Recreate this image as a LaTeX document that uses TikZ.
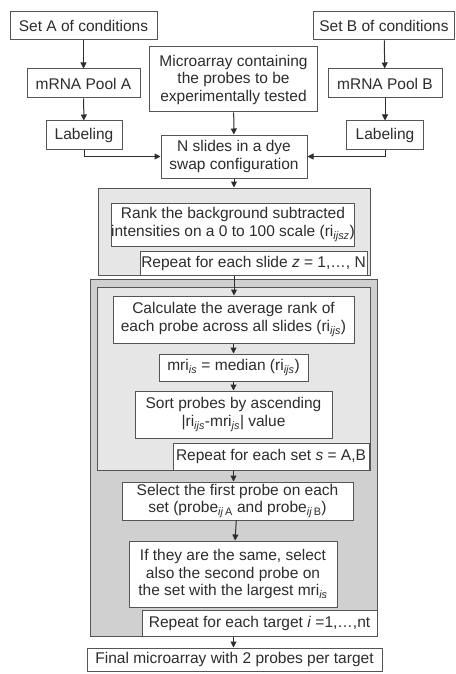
\documentclass[tikz,border=0pt]{standalone}
\usepackage{fontspec}
\setmainfont{Liberation Sans}
\usetikzlibrary{arrows.meta,positioning}
\definecolor{MicLine}{RGB}{85,85,85}
\definecolor{MicText}{RGB}{45,45,45}
\definecolor{MicLight}{RGB}{230,230,230}
\definecolor{MicMid}{RGB}{208,208,208}
\newcommand{\micsub}[1]{\textsubscript{#1}}
\tikzset{
  mic/box/.style={
    draw=MicLine,
    line width=1pt,
    fill=white,
    align=center,
    text=MicText,
    inner sep=0pt,
    font=\fontsize{15.5}{17.5}\selectfont
  },
  mic/back/.style={
    draw=MicLine,
    line width=1pt,
    inner sep=0pt
  },
  mic/arrow/.style={-{Triangle[length=6pt,width=6pt]}, line width=1pt, draw=MicText}
}

\begin{document}
\begin{tikzpicture}[x=1pt,y=-1pt]
  \useasboundingbox (0,0) rectangle (455,674);
  % grey loop panels
  \node[mic/back,fill=MicLight,minimum width=272pt,minimum height=87pt] (back1) at (234,231.5) {};
  \node[mic/back,fill=MicMid,minimum width=287pt,minimum height=357pt] (back2) at (233.5,457.5) {};
  \node[mic/back,fill=MicLight,minimum width=273pt,minimum height=183pt] (back3) at (233.5,378.5) {};
  % inputs
  \node[mic/box,minimum width=147pt,minimum height=28pt] (setA) at (83.5,26) {Set A of conditions};
  \node[mic/box,minimum width=141pt,minimum height=28pt] (setB) at (384,26) {Set B of conditions};
  \node[mic/box,minimum width=113pt,minimum height=29pt] (poolA) at (83.5,83.5) {mRNA Pool A};
  \node[mic/box,minimum width=114pt,minimum height=29pt] (poolB) at (385,83.5) {mRNA Pool B};
  \node[mic/box,minimum width=168pt,minimum height=65pt] (micro) at (233.5,79.5) {Microarray containing\\the probes to be\\experimentally tested};
  \node[mic/box,minimum width=76pt,minimum height=28pt] (labA) at (84,135) {Labeling};
  \node[mic/box,minimum width=77pt,minimum height=28pt] (labB) at (385,135) {Labeling};
  \node[mic/box,minimum width=146pt,minimum height=43pt] (nslides) at (234,156.5) {N slides in a dye\\swap configuration};
  % per slide
  \node[mic/box,minimum width=240pt,minimum height=43pt] (rank) at (233,224.5) {Rank the background subtracted\\intensities on a 0 to 100 scale (ri\micsub{\textit{ijsz}})};
  \node[mic/box,minimum width=227pt,minimum height=24pt] (repz) at (253.5,263) {Repeat for each slide \textit{z} = 1,…, N};
  % per set
  \node[mic/box,minimum width=241pt,minimum height=47pt] (calc) at (233.5,319.5) {Calculate the average rank of\\each probe across all slides (ri\micsub{\textit{ijs}})};
  \node[mic/box,minimum width=149pt,minimum height=27pt] (mri) at (233.5,367.5) {mri\micsub{\textit{is}} = median (ri\micsub{\textit{ijs}})};
  \node[mic/box,minimum width=197pt,minimum height=47pt] (sort) at (233.5,414.5) {Sort probes by ascending\\|ri\micsub{\textit{ijs}}-mri\micsub{\textit{js}}| value};
  \node[mic/box,minimum width=196pt,minimum height=27pt] (reps) at (271,456.5) {Repeat for each set \textit{s} = A,B};
  % per target
  \node[mic/box,minimum width=231pt,minimum height=38pt] (select) at (237.5,501) {Select the first probe on each\\set (probe\micsub{\textit{ij}\,A} and probe\micsub{\textit{ij}\,B})};
  \node[mic/box,minimum width=208pt,minimum height=66pt] (same) at (233,574) {If they are the same, select\\also the second probe on\\the set with the largest mri\micsub{\textit{is}}};
  \node[mic/box,minimum width=235pt,minimum height=26pt] (rept) at (259.5,623) {Repeat for each target \textit{i} =1,…,nt};
  \node[mic/box,minimum width=295pt,minimum height=23pt] (final) at (234.5,659.5) {Final microarray with 2 probes per target};
  % connectors
  \foreach \a/\b in {setA/poolA,poolA/labA,setB/poolB,poolB/labB,micro/nslides,calc/mri,mri/sort,select/same}{\draw[mic/arrow] (\a) -- (\b);}
  \draw[mic/arrow] (labA.south) |- (nslides.west);
  \draw[mic/arrow] (labB.south) |- (nslides.east);
  \draw[mic/arrow] (nslides.south) -- (nslides.south |- back1.north);
  \draw[mic/arrow] (back1.south) -- (back1.south |- calc.north);
  \draw[mic/arrow] (back3.south) -- (back3.south |- select.north);
  \draw[mic/arrow] (back2.south) -- (back2.south |- final.north);
\end{tikzpicture}
\end{document}
